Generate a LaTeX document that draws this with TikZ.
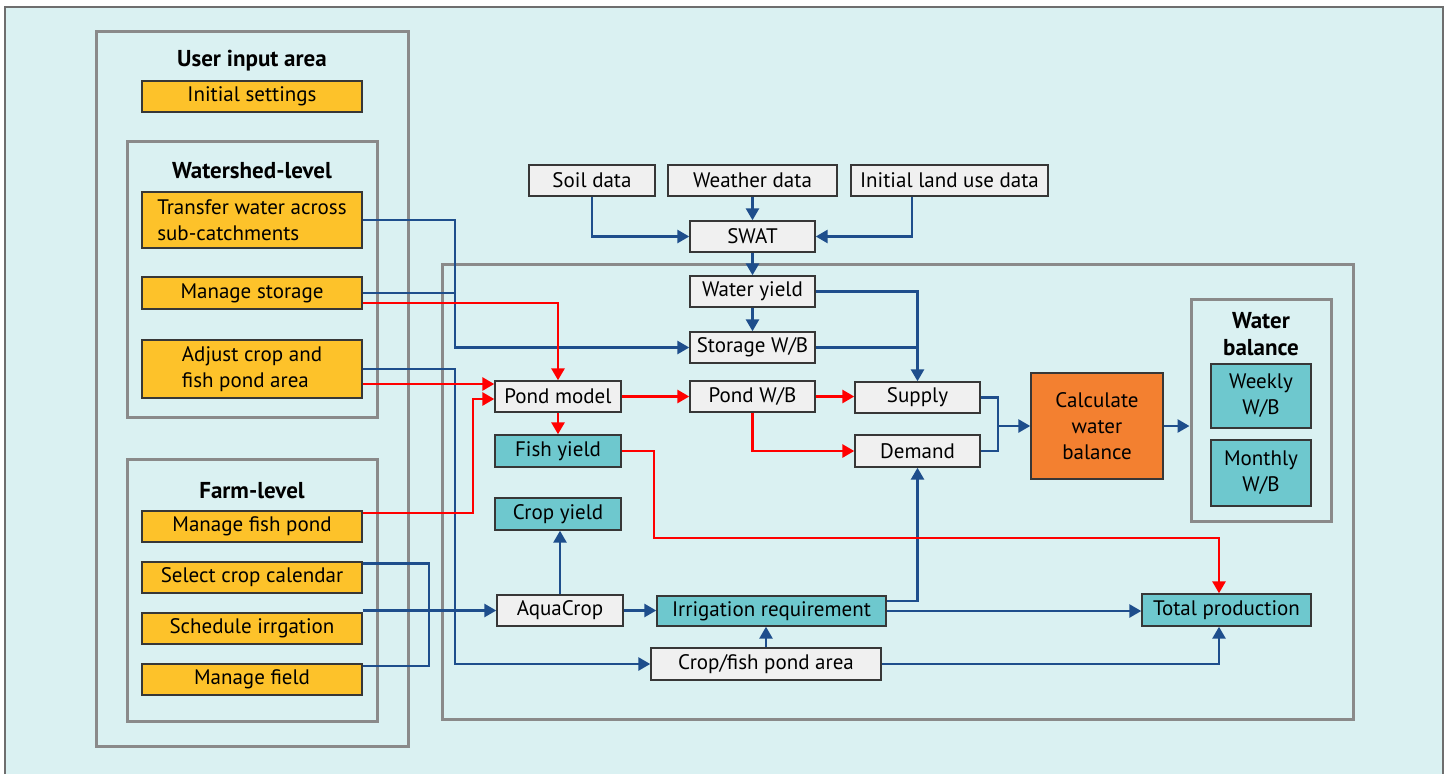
\documentclass[tikz,border=0pt]{standalone}
\usepackage{fontspec}
\setmainfont{PT Sans}
\usetikzlibrary{arrows.meta,calc}
\definecolor{bgc}{RGB}{218,241,242}
\definecolor{yelc}{RGB}{253,194,42}
\definecolor{tealc}{RGB}{110,200,206}
\definecolor{lgrayc}{RGB}{240,240,240}
\definecolor{orangec}{RGB}{243,128,48}
\definecolor{bluec}{RGB}{30,78,140}
\definecolor{redc}{RGB}{255,0,0}
\definecolor{framec}{RGB}{138,138,138}
\definecolor{edgec}{RGB}{55,55,55}
\begin{document}
\begin{tikzpicture}[x=1pt,y=-1pt,
  box/.style={draw=edgec,line width=1.4pt,inner sep=0pt,font=\fontsize{21}{26}\selectfont,align=center},
  ybox/.style={box,fill=yelc},
  gbox/.style={box,fill=lgrayc},
  tbox/.style={box,fill=tealc},
  obox/.style={box,fill=orangec},
  frm/.style={draw=framec,line width=3pt},
  frmnode/.style={frm,inner sep=0pt},
  bl/.style={draw=bluec,line width=2.7pt},
  rd/.style={draw=redc,line width=2.8pt},
  arr/.style={-{Triangle[length=12pt,width=13pt]}},
  ttl/.style={font=\bfseries\fontsize{23}{27}\selectfont,align=center}]
\useasboundingbox (0,0) rectangle (1450,774);
% background
\fill[bgc] (5,7) rectangle (1443,774);
\draw[framec!80!black,line width=1.2pt] (5,774) -- (5,7) -- (1443,7) -- (1443,774);
% frames
\draw[frm] (96,31) rectangle (408,746);
\draw[frm] (127,141) rectangle (377,417);
\draw[frm] (127,459) rectangle (377,721);
\draw[frm] (442,264) rectangle (1353,719);
\node[frmnode,minimum width=140pt,minimum height=222pt] (wbf) at (1261,410) {};
% titles
\node[ttl] (t1) at (252,61) {User input area};
\node[ttl] (t2) at (252,171) {Watershed-level};
\node[ttl] (t3) at (252,491) {Farm-level};
\node[ttl] (t4) at (1261,334) {Water\\balance};
% user input nodes
\node[ybox,minimum width=220pt,minimum height=31pt] (init) at (252,96.5) {Initial settings};
\node[ybox,minimum width=220pt,minimum height=56pt,align=left] (trans) at (252,220) {Transfer water across\\sub-catchments};
\node[ybox,minimum width=220pt,minimum height=32pt] (ms) at (252,293) {Manage storage};
\node[ybox,minimum width=220pt,minimum height=58pt,align=left] (adj) at (252,369) {Adjust crop and\\fish pond area};
\node[ybox,minimum width=220pt,minimum height=31pt] (mfp) at (252,526.5) {Manage fish pond};
\node[ybox,minimum width=220pt,minimum height=31pt] (sel) at (252,577.5) {Select crop calendar};
\node[ybox,minimum width=220pt,minimum height=31pt] (sch) at (252,628.5) {Schedule irrgation};
\node[ybox,minimum width=220pt,minimum height=31pt] (mf) at (252,679.5) {Manage field};
% model nodes
\node[gbox,minimum width=126pt,minimum height=31pt] (soil) at (592,180.5) {Soil data};
\node[gbox,minimum width=169pt,minimum height=31pt] (wd) at (752.5,180.5) {Weather data};
\node[gbox,minimum width=197pt,minimum height=31pt] (ilu) at (949.5,180.5) {Initial land use data};
\node[gbox,minimum width=125pt,minimum height=31pt] (swat) at (752.5,236.5) {SWAT};
\node[gbox,minimum width=125pt,minimum height=31pt] (wy) at (752.5,291.5) {Water yield};
\node[gbox,minimum width=125pt,minimum height=31pt] (stor) at (752.5,347.5) {Storage W/B};
\node[gbox,minimum width=126pt,minimum height=31pt] (pm) at (558,396.5) {Pond model};
\node[gbox,minimum width=125pt,minimum height=31pt] (pwb) at (752.5,396.5) {Pond W/B};
\node[gbox,minimum width=125pt,minimum height=31pt] (sup) at (917.5,397.5) {Supply};
\node[gbox,minimum width=125pt,minimum height=32pt] (dem) at (917.5,451) {Demand};
\node[tbox,minimum width=126pt,minimum height=32pt] (fy) at (558,451) {Fish yield};
\node[tbox,minimum width=126pt,minimum height=32pt] (cy) at (558,514) {Crop yield};
\node[gbox,minimum width=126pt,minimum height=31pt] (aq) at (560,610.5) {AquaCrop};
\node[tbox,minimum width=229pt,minimum height=30pt] (ir) at (771.5,611) {Irrigation requirement};
\node[gbox,minimum width=230pt,minimum height=32pt] (cfp) at (766,664) {Crop/fish pond area};
\node[tbox,minimum width=169pt,minimum height=32pt] (tp) at (1226.5,610) {Total production};
\node[obox,minimum width=132pt,minimum height=106pt] (calc) at (1097,426) {Calculate\\water\\balance};
\node[tbox,minimum width=100pt,minimum height=64pt] (wk) at (1261,396) {Weekly\\W/B};
\node[tbox,minimum width=100pt,minimum height=66pt] (mo) at (1261,473) {Monthly\\W/B};
% helper coordinates
\coordinate (bx) at (455,0);
\coordinate (rx) at (473,0);
\coordinate (fx) at (429,0);
\coordinate (jx) at (998,0);
\coordinate (ry) at (654,538);
\coordinate (msB) at ([yshift=-10pt]ms.east);
\coordinate (adjR) at ([yshift=-15pt]adj.east);
\coordinate (mfpR) at ([yshift=13.5pt]mfp.east);
\coordinate (selR) at ([yshift=14pt]sel.east);
\coordinate (schR) at ([yshift=18pt]sch.east);
\coordinate (mfR) at ([yshift=13.5pt]mf.east);
\coordinate (pmL) at ([yshift=-2.5pt]pm.west);
\coordinate (tpN) at ([xshift=-7.5pt]tp.north);
\coordinate (tpS) at ([xshift=-7.5pt]tp.south);
\coordinate (iluS) at ([xshift=-37.5pt]ilu.south);
\coordinate (irU) at ([yshift=10pt]ir.east);
% blue connectors
\draw[bl,arr] (trans.east) -| (bx |- stor.west) -- (stor.west);
\draw[bl] (ms.east) -- (ms.east -| bx);
\draw[bl,arr] (adj.east) -| (bx |- cfp.west) -- (cfp.west);
\draw[bl] (selR) -| (fx |- mfR) -- (mfR);
\draw[bl,arr] (schR) -- (schR -| aq.west);
\draw[bl,arr] (soil.south) |- (swat.west);
\draw[bl,arr] (wd.south) -- (swat.north);
\draw[bl,arr] (iluS) |- (swat.east);
\draw[bl,arr] (swat.south) -- (wy.north);
\draw[bl,arr] (wy.south) -- (stor.north);
\draw[bl,arr] (wy.east) -| (sup.north);
\draw[bl] (stor.east) -- (stor.east -| sup.north);
\draw[bl] (sup.east) -| (jx |- calc.west);
\draw[bl] (dem.east) -| (jx |- calc.west);
\draw[bl,arr] (jx |- calc.west) -- (calc.west);
\draw[bl,arr] (calc.east) -- (calc.east -| wbf.west);
\draw[bl,arr] (aq.north) -- (aq.north |- cy.south);
\draw[bl,arr] (aq.east) -- (aq.east -| ir.west);
\draw[bl,arr] (irU) -| (dem.south);
\draw[bl,arr] (ir.east) -- (ir.east -| tp.west);
\draw[bl,arr] (cfp.north) -- (cfp.north |- ir.south);
\draw[bl,arr] (cfp.east) -| (tpS);
% red connectors
\draw[rd,arr] (msB) -| (pm.north);
\draw[rd,arr] (adjR) -- (adjR -| pm.west);
\draw[rd,arr] (mfpR) -| (rx |- pmL) -- (pmL);
\draw[rd,arr] (pm.south) -- (fy.north);
\draw[rd,arr] (pm.east) -- (pwb.west);
\draw[rd,arr] (pwb.east) -- (pwb.east -| sup.west);
\draw[rd,arr] (pwb.south) |- (dem.west);
\draw[rd,arr] (fy.east) -| (ry) -| (tpN);
\end{tikzpicture}
\end{document}
